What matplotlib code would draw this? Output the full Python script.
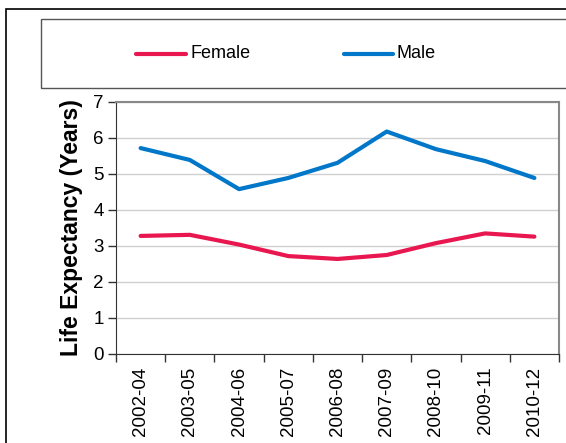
import matplotlib.pyplot as plt
from matplotlib.patches import Rectangle
from matplotlib.lines import Line2D

plt.rcParams['font.family'] = ['Liberation Sans', 'DejaVu Sans']

periods = ["2002-04", "2003-05", "2004-06", "2005-07", "2006-08",
           "2007-09", "2008-10", "2009-11", "2010-12"]
female = [3.28, 3.31, 3.04, 2.72, 2.64, 2.75, 3.08, 3.35, 3.26]
male = [5.72, 5.39, 4.58, 4.89, 5.31, 6.18, 5.69, 5.36, 4.89]

female_col = "#E8174F"
male_col = "#0077C8"

W, H = 566, 443
fig = plt.figure(figsize=(W / 100, H / 100), dpi=100)

# outer chart frame (runs off the canvas)
fig.patches.append(Rectangle((6 / W, -0.1), 1.2, 1 - 9 / H + 0.1, transform=fig.transFigure,
                             fill=False, edgecolor="black", linewidth=1.2))
# legend box
fig.patches.append(Rectangle((41 / W, 1 - 88 / H), 1.2, 69 / H, transform=fig.transFigure,
                             fill=False, edgecolor="#555555", linewidth=1.0))

ax = fig.add_axes([116 / W, 1 - 354 / H, 443 / W, 252 / H])
x = list(range(len(periods)))
ax.plot(x, female, color=female_col, linewidth=3, solid_capstyle="round", zorder=3)
ax.plot(x, male, color=male_col, linewidth=3, solid_capstyle="round", zorder=3)

ax.set_xlim(-0.5, len(periods) - 0.5)
ax.set_ylim(0, 7)
ax.set_yticks(range(8))
ax.yaxis.grid(True, color="#D0D0D0", linewidth=1)
ax.set_axisbelow(True)

ax.set_xticks(x)
ax.set_xticklabels(periods, rotation=90, fontsize=13.5)
ax.set_xticks([i - 0.5 for i in range(len(periods) + 1)], minor=True)
ax.tick_params(axis="x", which="major", length=0, pad=9)
ax.tick_params(axis="x", which="minor", length=6, width=1, color="#333333")
ax.tick_params(axis="y", length=6, width=1, color="#333333", labelsize=13.5, pad=3)

ax.set_ylabel("Life Expectancy (Years)", fontsize=16.5, fontweight="bold", labelpad=7)

for side in ["left", "bottom"]:
    ax.spines[side].set_color("#333333")
for side in ["top", "right"]:
    ax.spines[side].set_color("#888888")
    ax.spines[side].set_linewidth(1.5)

# legend entries
fig.add_artist(Line2D([136 / W, 186 / W], [1 - 54 / H] * 2, color=female_col, linewidth=3,
                      solid_capstyle="round"))
fig.text(190 / W, 1 - 54 / H, "Female", fontsize=13, va="center", ha="left")
fig.add_artist(Line2D([344 / W, 393 / W], [1 - 54 / H] * 2, color=male_col, linewidth=3,
                      solid_capstyle="round"))
fig.text(397 / W, 1 - 54 / H, "Male", fontsize=13, va="center", ha="left")

fig.savefig("out.png", dpi=100)
